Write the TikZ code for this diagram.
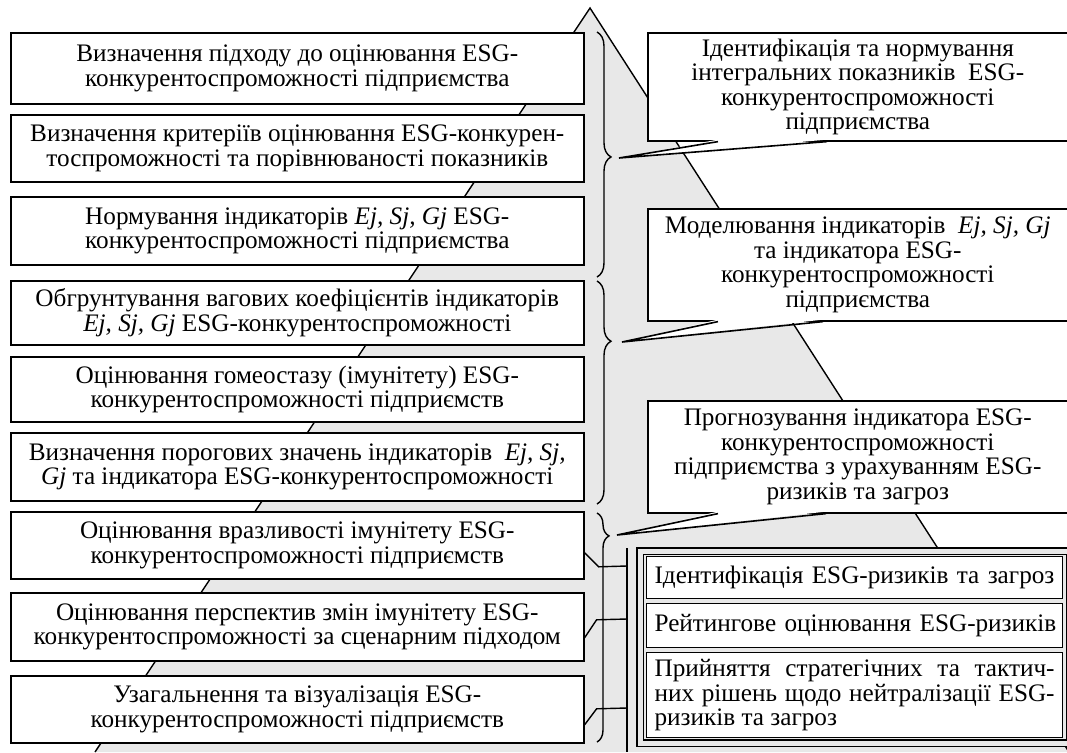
\documentclass[tikz,border=0pt]{standalone}
\usepackage{fontspec}
\setmainfont{Liberation Serif}
\usetikzlibrary{decorations.pathreplacing}
\usetikzlibrary{calc}

\definecolor{pyramidGrey}{gray}{0.91}

\begin{document}
\begin{tikzpicture}[x=0.5pt, y=-0.5pt]
    \newcommand{\stagewidth}[0]{286.5pt}
    \newcommand{\notewidth}[0]{210pt}
    \newcommand{\textsize}[0]{\fontsize{12.6}{12.2}\selectfont}

    \tikzstyle{stage} = [
      anchor=north west,
      align=center,
      draw=black,
      thick,
      fill=white,
      inner sep=1pt,
      minimum width=\stagewidth,
      font=\textsize,
    ]
    \tikzstyle{note} = [
      anchor=north west,
      align=center,
      draw=black,
      thick,
      fill=white,
      inner sep=1pt,
      minimum width=\notewidth,
      font=\textsize,
    ]
    \tikzstyle{riskframe} = [
      anchor=north west,
      draw=black,
      semithick,
      double=pyramidGrey,
      double distance=2.5pt,
      fill=pyramidGrey,
      minimum width=214.75pt,
      minimum height=96pt,
    ]
    \tikzstyle{risk} = [
      anchor=north west,
      align=left,
      draw=black,
      semithick,
      fill=white,
      inner xsep=4pt,
      inner ysep=1pt,
      text width=200pt,
      font=\textsize,
    ]
    \tikzstyle{edge} = [
      draw=black,
      line width=0.7pt,
    ]
    \tikzstyle{curly} = [
      draw=black,
      line width=0.7pt,
      decorate,
    ]
    \tikzstyle{pointer} = [
      draw=black,
      thick,
      line join=miter,
    ]

    \useasboundingbox (0,0) rectangle (1067,752);

    \coordinate (apex) at (590,8);
    \coordinate (baseLeft) at (95,752);
    \coordinate (baseRight) at (1069,752);

    % pyramid
    {
      \fill[pyramidGrey] (baseLeft) -- (apex) -- (baseRight) -- cycle;
      \draw[edge] (baseLeft) -- (apex) -- (baseRight);
    }

    % stages
    {
      \node[stage, minimum height=35.5pt] (stageI) at (10,32)
        {Визначення підходу до оцінювання ESG-\\конкурентоспроможності підприємства};
      \node[stage, minimum height=33.5pt] (stageII) at (10,114)
        {Визначення критеріїв оцінювання ESG-конкурен-\\тоспроможності та порівнюваності показників};
      \node[stage, minimum height=34pt] (stageIII) at (10,196)
        {Нормування індикаторів \textit{Ej, Sj, Gj} ESG-\\конкурентоспроможності підприємства};
      \node[stage, minimum height=32pt] (stageIV) at (10,280)
        {Обгрунтування вагових коефіцієнтів індикаторів\\\textit{Ej, Sj, Gj} ESG-конкурентоспроможності};
      \node[stage, minimum height=32.5pt] (stageV) at (10,356)
        {Оцінювання гомеостазу (імунітету) ESG-\\конкурентоспроможності підприємств};
      \node[stage, minimum height=34pt] (stageVI) at (10,432)
        {Визначення порогових значень індикаторів \ \textit{Ej, Sj,}\\\textit{Gj} та індикатора ESG-конкурентоспроможності};
      \node[stage, minimum height=33.5pt] (stageVII) at (10,511)
        {Оцінювання вразливості імунітету ESG-\\конкурентоспроможності підприємств};
      \node[stage, minimum height=34pt] (stageVIII) at (10,592)
        {Оцінювання перспектив змін імунітету ESG-\\конкурентоспроможності за сценарним підходом};
      \node[stage, minimum height=33.5pt] (stageIX) at (10,675)
        {Узагальнення та візуалізація ESG-\\конкурентоспроможності підприємств};
    }

    % braces
    {
      \draw[curly, decoration={brace, amplitude=7pt, aspect=0.51}] (597,32) -- (597,277);
      \draw[curly, decoration={brace, amplitude=7pt, aspect=0.27}] (597,281) -- (597,504);
      \draw[curly, decoration={brace, amplitude=6pt, aspect=0.1}] (597,513) -- (597,742);
    }

    % notes
    {
      \node[note, minimum height=54pt] (noteI) at (647,32)
        {Ідентифікація та нормування\\інтегральних показників \ ESG-\\конкурентоспроможності\\підприємства};
      \coordinate (tipI) at (619,158);
      \fill[white] ([xshift=35.5pt, yshift=1pt] noteI.south west) -- (tipI) -- ([xshift=90pt, yshift=1pt] noteI.south west) -- cycle;
      \draw[pointer] ([xshift=35.5pt] noteI.south west) -- (tipI) -- ([xshift=90pt] noteI.south west);

      \node[note, minimum height=56pt] (noteII) at (647,208)
        {Моделювання індикаторів \ \textit{Ej, Sj, Gj}\\та індикатора ESG-\\конкурентоспроможності\\підприємства};
      \coordinate (tipII) at (622,342);
      \fill[white] ([xshift=35.5pt, yshift=1pt] noteII.south west) -- (tipII) -- ([xshift=88pt, yshift=1pt] noteII.south west) -- cycle;
      \draw[pointer] ([xshift=35.5pt] noteII.south west) -- (tipII) -- ([xshift=88pt] noteII.south west);

      \node[note, minimum height=56pt] (noteIII) at (647,400)
        {Прогнозування індикатора ESG-\\конкурентоспроможності\\підприємства з урахуванням ESG-\\ризиків та загроз};
      \coordinate (tipIII) at (617,535);
      \fill[white] ([xshift=35.5pt, yshift=1pt] noteIII.south west) -- (tipIII) -- ([xshift=89.5pt, yshift=1pt] noteIII.south west) -- cycle;
      \draw[pointer] ([xshift=35.5pt] noteIII.south west) -- (tipIII) -- ([xshift=89.5pt] noteIII.south west);
    }

    % risks
    {
      \node[riskframe] (riskFrame) at (639.5,550.5) {};
      \node[risk, minimum height=21pt] (riskI) at (646,556)
        {\mbox{Ідентифікація ESG-ризиків та загроз}};
      \node[risk, minimum height=22pt] (riskII) at (646,603)
        {\mbox{Рейтингове оцінювання ESG-ризиків}};
      \node[risk, align=justify, minimum height=42.5pt] (riskIII) at (646,652)
        {Прийняття стратегічних та тактич-\linebreak них рішень щодо нейтралізації ESG-\linebreak ризиків та загроз};
    }

    % bar
    {
      \coordinate (barTop) at (627,548);
      \coordinate (barBottom) at (627,752);
      \coordinate (tickVII) at (627,566);
      \coordinate (tickVIII) at (627,619);
      \coordinate (tickIX) at (627,708);
      \draw[edge] (barTop) -- (barBottom);
      \draw[edge] ([yshift=-3.75pt] stageVII.east) -- ++(14,14) -- (tickVII);
      \draw[edge] ([yshift=-5.5pt] stageVIII.east) -- ++(12,-18) -- (tickVIII);
      \draw[edge] ([yshift=-7.75pt] stageIX.east) -- ++(12,-16) -- (tickIX);
    }
\end{tikzpicture}
\end{document}
